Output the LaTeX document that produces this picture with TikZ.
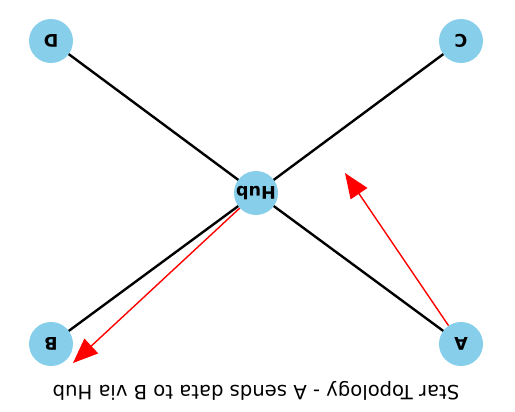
\documentclass[tikz,border=0pt]{standalone}
\usepackage{fontspec}
\setmainfont{DejaVu Sans}
\usetikzlibrary{arrows.meta}
\definecolor{Sky}{HTML}{87CEEB}
\definecolor{Msg}{HTML}{FF0000}
\tikzset{
    hostnode/.style={circle, fill=Sky, minimum size=44pt, inner sep=0pt, rotate=180, font=\fontsize{17.5}{20}\selectfont\bfseries},
    link/.style={line width=2.4pt, black},
    msgarrow/.style={-{Triangle[length=25pt, width=20pt]}, line width=1.4pt, color=Msg},
}
\begin{document}
\begin{tikzpicture}[x=1pt, y=-1pt]
                \useasboundingbox[fill=white] (0,0) rectangle (515,412);

                % Collegamenti
                \coordinate (hubc) at (256,193);
                \draw[link] (hubc) -- (51,41) (hubc) -- (461,41) (hubc) -- (51,344) (hubc) -- (461,344);

                % Nodi
                \node[hostnode] (hub) at (256,193) {Hub};
                \node[hostnode] (A) at (461,344) {A};
                \node[hostnode] (B) at (51,344) {B};
                \node[hostnode] (C) at (461,41) {C};
                \node[hostnode] (D) at (51,41) {D};

                % Frecce del messaggio
                \coordinate (tipA) at (345,173);
                \coordinate (tipB) at (73,363);
                \draw[msgarrow] (A) -- (tipA);
                \draw[msgarrow] (hub) -- (tipB);

                % Titolo
                \node[rotate=180, font=\fontsize{19.6}{22}\selectfont] (title) at (256,391) {Star Topology - A sends data to B via Hub};
            \end{tikzpicture}
\end{document}
